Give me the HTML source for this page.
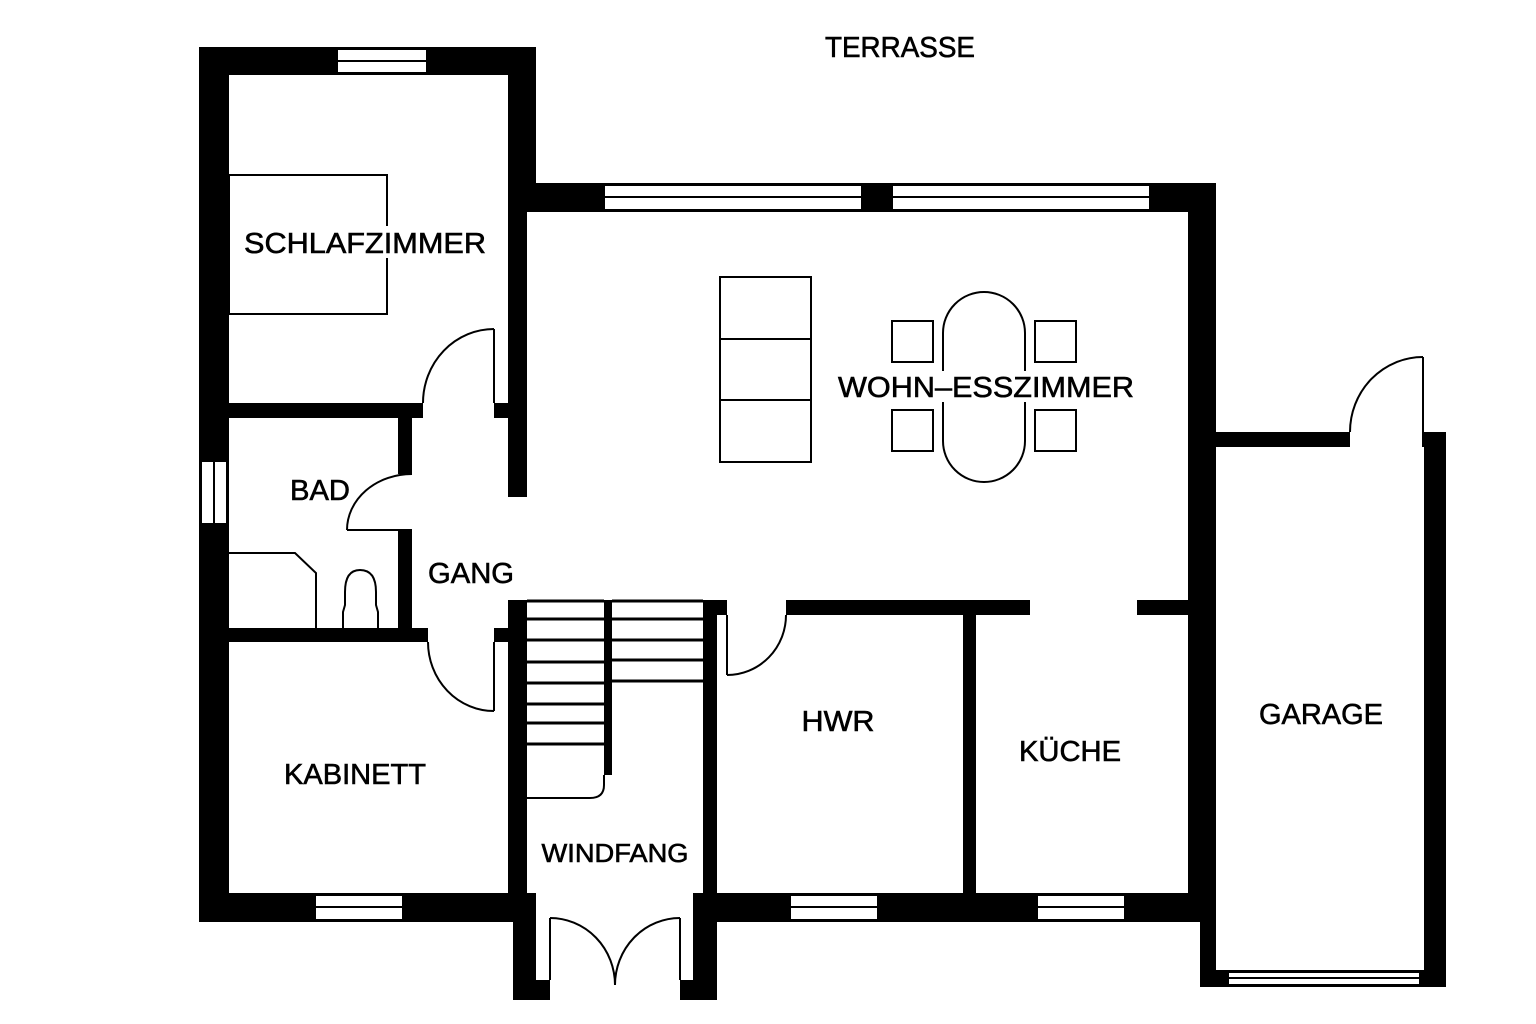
<!DOCTYPE html>
<html><head><meta charset="utf-8"><style>html,body{margin:0;padding:0;background:#fff}svg{display:block}</style></head>
<body>
<svg width="1536" height="1024" viewBox="0 0 1536 1024" xmlns="http://www.w3.org/2000/svg">
<g fill="#000">
<rect x="199" y="47" width="337" height="28"/>
<rect x="199" y="47" width="30" height="875"/>
<rect x="508" y="47" width="28" height="165"/>
<rect x="508" y="183" width="19" height="314"/>
<rect x="494" y="403" width="16" height="15"/>
<rect x="527" y="183" width="689" height="29"/>
<rect x="1188" y="183" width="28" height="417"/>
<rect x="1188" y="432" width="28" height="461"/>
<rect x="1216" y="432" width="134" height="15"/>
<rect x="1137" y="600" width="51" height="15"/>
<rect x="1424" y="432" width="22" height="555"/>
<rect x="1200" y="880" width="16" height="107"/>
<rect x="1200" y="970" width="246" height="17"/>
<rect x="229" y="403" width="194" height="15"/>
<rect x="398" y="418" width="14" height="56"/>
<rect x="398" y="530" width="14" height="98"/>
<rect x="229" y="628" width="199" height="14"/>
<rect x="494" y="628" width="16" height="14"/>
<rect x="508" y="600" width="19" height="293"/>
<rect x="703" y="600" width="14" height="293"/>
<rect x="703" y="600" width="24" height="15"/>
<rect x="786" y="600" width="244" height="15"/>
<rect x="963" y="615" width="13" height="278"/>
<rect x="199" y="893" width="337" height="29"/>
<rect x="513" y="893" width="23" height="107"/>
<rect x="513" y="980" width="37" height="20"/>
<rect x="693" y="893" width="24" height="107"/>
<rect x="680" y="980" width="37" height="20"/>
<rect x="717" y="893" width="483" height="29"/>
<rect x="604" y="600" width="8" height="175"/>
</g>
<g fill="#fff" stroke="#000" stroke-width="2">
<rect x="337" y="49" width="90" height="24"/>
<rect x="201" y="461" width="26" height="63"/>
<rect x="315" y="895" width="88" height="25"/>
<rect x="790" y="895" width="88" height="25"/>
<rect x="1037" y="895" width="88" height="25"/>
<rect x="604" y="185" width="258" height="25"/>
<rect x="892" y="185" width="258" height="25"/>
<rect x="1228" y="972" width="192" height="13"/>
</g>
<g stroke="#000" stroke-width="2" fill="none">
<line x1="337" y1="61" x2="427" y2="61"/>
<line x1="214" y1="461" x2="214" y2="524"/>
<line x1="315" y1="907" x2="403" y2="907"/>
<line x1="790" y1="907" x2="878" y2="907"/>
<line x1="1037" y1="907" x2="1125" y2="907"/>
<line x1="604" y1="197" x2="862" y2="197"/>
<line x1="892" y1="197" x2="1150" y2="197"/>
<line x1="1228" y1="978" x2="1420" y2="978"/>
<line x1="494" y1="329" x2="494" y2="403"/><path d="M423 403 A71 74 0 0 1 494 329"/>
<line x1="347" y1="530" x2="412" y2="530"/><path d="M347 530 A65 56 0 0 1 412 474"/>
<line x1="494" y1="642" x2="494" y2="711"/><path d="M428 642 A66 69 0 0 0 494 711"/>
<line x1="727" y1="615" x2="727" y2="675"/><path d="M727 675 A59 60 0 0 0 786 615"/>
<line x1="1423" y1="357" x2="1423" y2="447"/><path d="M1350 432 A73 75 0 0 1 1423 357"/>
<line x1="550" y1="918" x2="550" y2="980"/><path d="M550 918 A65 67 0 0 1 615 985"/>
<line x1="680" y1="918" x2="680" y2="980"/><path d="M680 918 A65 67 0 0 0 615 985"/>
<path d="M527 798 H590 Q604 798 604 785 V775"/>
<g stroke-width="3">
<line x1="527" y1="601" x2="604" y2="601"/>
<line x1="527" y1="619" x2="604" y2="619"/>
<line x1="527" y1="640" x2="604" y2="640"/>
<line x1="527" y1="662" x2="604" y2="662"/>
<line x1="527" y1="683" x2="604" y2="683"/>
<line x1="527" y1="704" x2="604" y2="704"/>
<line x1="527" y1="723" x2="604" y2="723"/>
<line x1="527" y1="744" x2="604" y2="744"/>
<line x1="612" y1="601" x2="703" y2="601"/>
<line x1="612" y1="619" x2="703" y2="619"/>
<line x1="612" y1="640" x2="703" y2="640"/>
<line x1="612" y1="660" x2="703" y2="660"/>
<line x1="612" y1="681" x2="703" y2="681"/>
</g>
<rect x="229" y="175" width="158" height="139"/>
<rect x="720" y="277" width="91" height="185"/>
<line x1="720" y1="339" x2="811" y2="339"/>
<line x1="720" y1="400" x2="811" y2="400"/>
<rect x="943" y="292" width="82" height="190" rx="41" ry="41"/>
<rect x="892" y="321" width="41" height="41"/>
<rect x="1035" y="321" width="41" height="41"/>
<rect x="892" y="410" width="41" height="41"/>
<rect x="1035" y="410" width="41" height="41"/>
<polyline points="229,553 295,553 316,573 316,628"/>
<path d="M343 628 V612 L345 605 V592 Q345 570 360 570 Q376 570 376 592 V605 L378 612 V628"/>
</g>
<rect x="240" y="226" width="250" height="32" fill="#fff"/>
<rect x="836" y="371" width="300" height="31" fill="#fff"/>
<g font-family="Liberation Sans, sans-serif" font-size="29" fill="#000" stroke="#000" stroke-width="0.6" text-anchor="middle">
<text x="900" y="57" textLength="150" lengthAdjust="spacingAndGlyphs">TERRASSE</text>
<text x="365" y="253" textLength="242" lengthAdjust="spacingAndGlyphs">SCHLAFZIMMER</text>
<text x="986" y="397" textLength="296" lengthAdjust="spacingAndGlyphs">WOHN–ESSZIMMER</text>
<text x="320" y="500" textLength="60" lengthAdjust="spacingAndGlyphs">BAD</text>
<text x="471" y="583" textLength="86" lengthAdjust="spacingAndGlyphs">GANG</text>
<text x="838" y="731" textLength="73" lengthAdjust="spacingAndGlyphs">HWR</text>
<text x="1070" y="761" textLength="102" lengthAdjust="spacingAndGlyphs">KÜCHE</text>
<text x="1321" y="724" textLength="124" lengthAdjust="spacingAndGlyphs">GARAGE</text>
<text x="355" y="784" textLength="142" lengthAdjust="spacingAndGlyphs">KABINETT</text>
<text x="615" y="862" font-size="26" textLength="147" lengthAdjust="spacingAndGlyphs">WINDFANG</text>
</g>
</svg>
</body></html>
